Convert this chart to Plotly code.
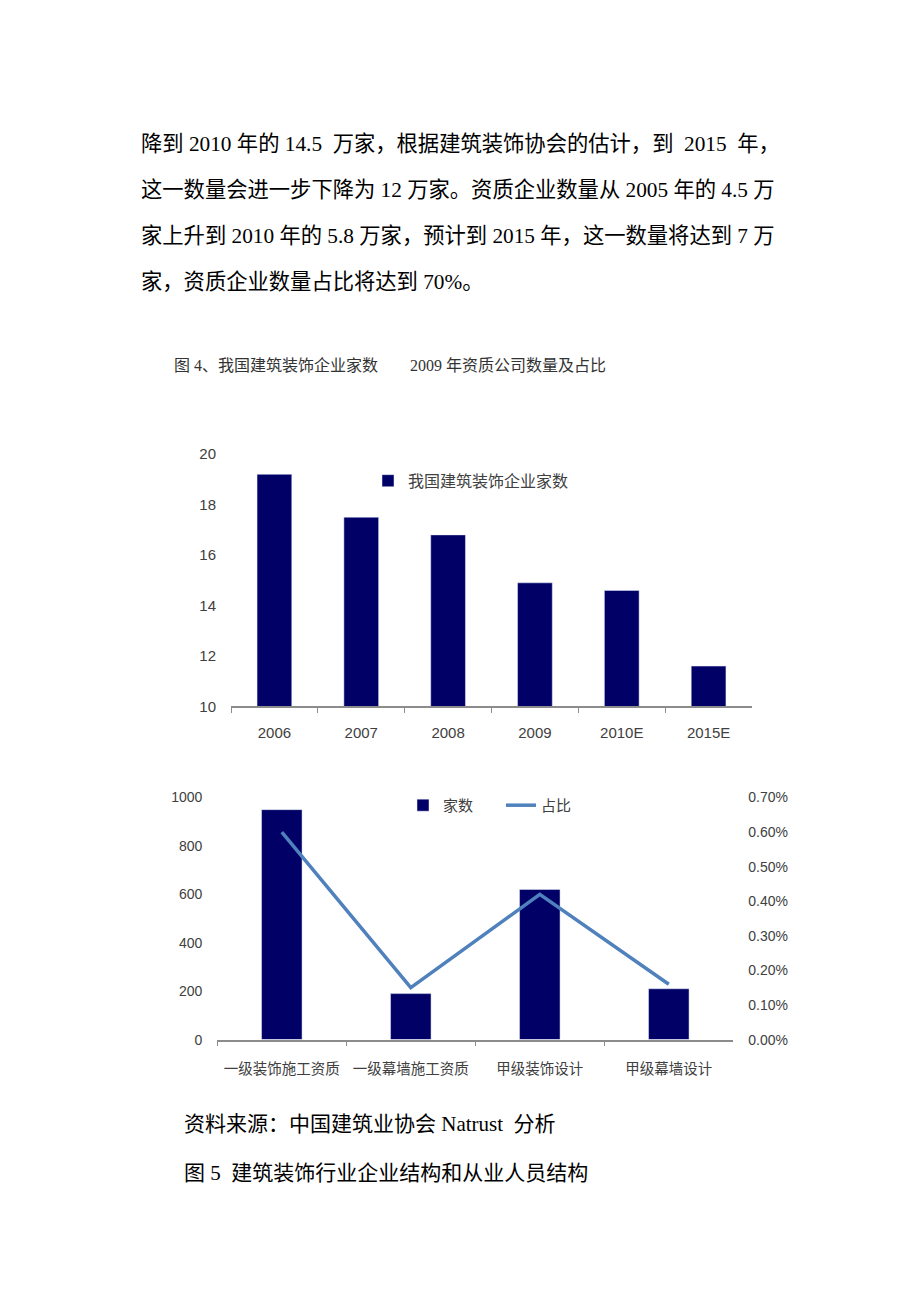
import plotly.graph_objects as go

# chart 1: number of decoration enterprises (10k)
years = ["2006", "2007", "2008", "2009", "2010E", "2015E"]
firm_counts = [19.2, 17.5, 16.8, 14.9, 14.6, 11.6]

# chart 2: qualified companies in 2009
quals = ["一级装饰施工资质", "一级幕墙施工资质", "甲级装饰设计", "甲级幕墙设计"]
qual_counts = [950, 190, 620, 210]
qual_share = [0.0060, 0.0015, 0.0042, 0.0016]

NB = "\u00a0"
para_lines = [
    f"降到 2010 年的 14.5{NB} 万家，根据建筑装饰协会的估计，到{NB} 2015{NB} 年，",
    "这一数量会进一步下降为 12 万家。资质企业数量从 2005 年的 4.5 万",
    "家上升到 2010 年的 5.8 万家，预计到 2015 年，这一数量将达到 7 万",
    "家，资质企业数量占比将达到 70%。",
]
caption = "图 4、我国建筑装饰企业家数" + NB * 7 + " 2009 年资质公司数量及占比"
source = f"资料来源：中国建筑业协会 Natrust{NB} 分析"
fig5 = f"图 5{NB} 建筑装饰行业企业结构和从业人员结构"

# the page body has an 8px margin, so the figure is 16px smaller than the window
OFF = 8
W, H = 920 - 2 * OFF, 1302 - 2 * OFF
NAVY = "#000066"
AXIS = "#8c8c8c"
TICK = "#404040"
CJK = "Noto Sans CJK SC"
SERIF = "Liberation Serif, Noto Sans CJK SC"
SANS = "Liberation Sans, Noto Sans CJK SC"


def px_x(x):
    return (x - OFF) / W


def px_y(y):
    return 1 - (y - OFF) / H


fig = go.Figure()
fig.add_trace(go.Bar(
    x=years, y=firm_counts, name="我国建筑装饰企业家数",
    marker=dict(color=NAVY), width=0.4, showlegend=True,
    xaxis="x", yaxis="y", legend="legend",
))
fig.add_trace(go.Bar(
    x=quals, y=qual_counts, name="家数",
    marker=dict(color=NAVY), width=0.314, showlegend=True,
    xaxis="x2", yaxis="y2", legend="legend2",
))
fig.add_trace(go.Scatter(
    x=quals, y=qual_share, name="占比", mode="lines",
    line=dict(color="#4f81bd", width=3.5), showlegend=True,
    xaxis="x2", yaxis="y3", legend="legend2",
))

annotations = []
for i, line in enumerate(para_lines):
    annotations.append(dict(
        text=line, x=px_x(139), y=px_y(137 + i * 46.5),
        xref="paper", yref="paper", xanchor="left", yanchor="middle",
        showarrow=False, font=dict(family=SERIF, size=21.3, color="#000000"),
    ))
annotations.append(dict(
    text=caption, x=px_x(172), y=px_y(361),
    xref="paper", yref="paper", xanchor="left", yanchor="middle",
    showarrow=False, font=dict(family=SERIF, size=16, color="#333333"),
))
annotations.append(dict(
    text=source, x=px_x(182), y=px_y(1130),
    xref="paper", yref="paper", xanchor="left", yanchor="middle",
    showarrow=False, font=dict(family=SERIF, size=21, color="#000000"),
))
annotations.append(dict(
    text=fig5, x=px_x(182), y=px_y(1179),
    xref="paper", yref="paper", xanchor="left", yanchor="middle",
    showarrow=False, font=dict(family=SERIF, size=21, color="#000000"),
))

fig.update_layout(
    width=W, height=H,
    margin=dict(l=0, r=0, t=0, b=0),
    paper_bgcolor="white", plot_bgcolor="white",
    font=dict(family=SANS, color=TICK),
    annotations=annotations,
    showlegend=True,
    xaxis=dict(
        domain=[px_x(231), px_x(752)], anchor="y", type="category",
        showline=True, linecolor=AXIS, linewidth=1.5,
        ticks="outside", tickson="boundaries", ticklen=5, tickcolor=AXIS,
        tickfont=dict(size=15, color=TICK), ticklabelstandoff=12,
        showgrid=False,
    ),
    yaxis=dict(
        domain=[px_y(706.7), px_y(451)], anchor="x", range=[10, 20], dtick=2,
        showline=False, showgrid=False, zeroline=False, ticks="",
        tickfont=dict(size=15, color=TICK), ticklabelstandoff=14,
    ),
    xaxis2=dict(
        domain=[px_x(217.3), px_x(733.3)], anchor="y2", type="category",
        showline=True, linecolor=AXIS, linewidth=1.5,
        ticks="outside", tickson="boundaries", ticklen=5, tickcolor=AXIS,
        tickfont=dict(family=CJK, size=14.5, color=TICK), ticklabelstandoff=15,
        showgrid=False,
    ),
    yaxis2=dict(
        domain=[px_y(1044.3), px_y(799)], anchor="x2", range=[0, 1000], dtick=200,
        showline=False, showgrid=False, zeroline=False, ticks="",
        tickfont=dict(size=14, color=TICK), ticklabelstandoff=14,
    ),
    yaxis3=dict(
        overlaying="y2", side="right", anchor="x2", range=[0, 0.007], dtick=0.001,
        tickformat=".2%", showline=False, showgrid=False, zeroline=False, ticks="",
        tickfont=dict(size=14, color=TICK), ticklabelstandoff=14,
    ),
    legend=dict(
        x=px_x(368), y=px_y(478), xanchor="left", yanchor="middle",
        bgcolor="rgba(0,0,0,0)", font=dict(family=CJK, size=16, color=TICK),
    ),
    legend2=dict(
        orientation="h", x=px_x(403), y=px_y(807), xanchor="left", yanchor="middle",
        entrywidth=53, entrywidthmode="pixels",
        bgcolor="rgba(0,0,0,0)", font=dict(family=CJK, size=15, color=TICK),
    ),
)

fig.write_html("out.html")
